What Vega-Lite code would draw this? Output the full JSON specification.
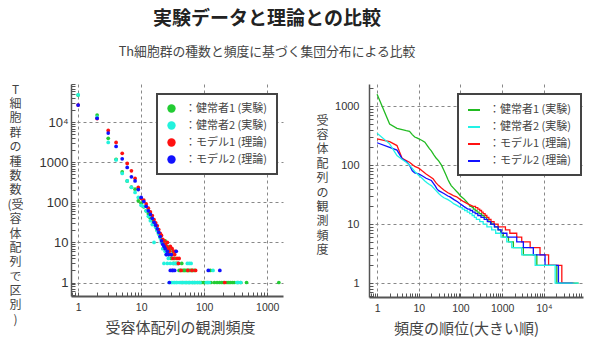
{
  "$schema": "https://vega.github.io/schema/vega-lite/v6.json",
  "background": "white",
  "padding": {"left": 6, "top": 10, "right": 5, "bottom": 5},
  "title": {
    "text": "実験データと理論との比較",
    "subtitle": "Th細胞群の種数と頻度に基づく集団分布による比較",
    "anchor": "middle",
    "dx": -28,
    "font": "Noto Sans CJK JP",
    "fontSize": 19,
    "fontWeight": "bold",
    "color": "#222222",
    "subtitleFont": "Noto Sans CJK JP",
    "subtitleFontSize": 12.8,
    "subtitleColor": "#444444",
    "subtitlePadding": 17,
    "offset": 19
  },
  "datasets": {
    "scatter": [
      {"series": "健常者1 (実験)", "freq": 1, "count": 48000},
      {"series": "健常者1 (実験)", "freq": 2, "count": 15200},
      {"series": "健常者1 (実験)", "freq": 3, "count": 4000},
      {"series": "健常者1 (実験)", "freq": 4, "count": 1200},
      {"series": "健常者1 (実験)", "freq": 5, "count": 580},
      {"series": "健常者1 (実験)", "freq": 6, "count": 345},
      {"series": "健常者1 (実験)", "freq": 7, "count": 240},
      {"series": "健常者1 (実験)", "freq": 8, "count": 215},
      {"series": "健常者1 (実験)", "freq": 9, "count": 110},
      {"series": "健常者1 (実験)", "freq": 10, "count": 96},
      {"series": "健常者1 (実験)", "freq": 11, "count": 78},
      {"series": "健常者1 (実験)", "freq": 12, "count": 62},
      {"series": "健常者1 (実験)", "freq": 13, "count": 52},
      {"series": "健常者1 (実験)", "freq": 14, "count": 40},
      {"series": "健常者1 (実験)", "freq": 15, "count": 35},
      {"series": "健常者1 (実験)", "freq": 16, "count": 30},
      {"series": "健常者1 (実験)", "freq": 17, "count": 25},
      {"series": "健常者1 (実験)", "freq": 18, "count": 20},
      {"series": "健常者1 (実験)", "freq": 19, "count": 17},
      {"series": "健常者1 (実験)", "freq": 20, "count": 14},
      {"series": "健常者1 (実験)", "freq": 21, "count": 12},
      {"series": "健常者1 (実験)", "freq": 22, "count": 10},
      {"series": "健常者1 (実験)", "freq": 23, "count": 9},
      {"series": "健常者1 (実験)", "freq": 24, "count": 11},
      {"series": "健常者1 (実験)", "freq": 25, "count": 7},
      {"series": "健常者1 (実験)", "freq": 26, "count": 8},
      {"series": "健常者1 (実験)", "freq": 27, "count": 6},
      {"series": "健常者1 (実験)", "freq": 28, "count": 5},
      {"series": "健常者1 (実験)", "freq": 29, "count": 7},
      {"series": "健常者1 (実験)", "freq": 30, "count": 4},
      {"series": "健常者1 (実験)", "freq": 31, "count": 5},
      {"series": "健常者1 (実験)", "freq": 32, "count": 6},
      {"series": "健常者1 (実験)", "freq": 33, "count": 3},
      {"series": "健常者1 (実験)", "freq": 34, "count": 4},
      {"series": "健常者1 (実験)", "freq": 36, "count": 3},
      {"series": "健常者1 (実験)", "freq": 38, "count": 3},
      {"series": "健常者1 (実験)", "freq": 40, "count": 2},
      {"series": "健常者1 (実験)", "freq": 42, "count": 2},
      {"series": "健常者1 (実験)", "freq": 44, "count": 3},
      {"series": "健常者1 (実験)", "freq": 45, "count": 1},
      {"series": "健常者1 (実験)", "freq": 46, "count": 2},
      {"series": "健常者1 (実験)", "freq": 48, "count": 2},
      {"series": "健常者1 (実験)", "freq": 50, "count": 2},
      {"series": "健常者1 (実験)", "freq": 52, "count": 1},
      {"series": "健常者1 (実験)", "freq": 53, "count": 2},
      {"series": "健常者1 (実験)", "freq": 56, "count": 2},
      {"series": "健常者1 (実験)", "freq": 58, "count": 1},
      {"series": "健常者1 (実験)", "freq": 59, "count": 2},
      {"series": "健常者1 (実験)", "freq": 62, "count": 2},
      {"series": "健常者1 (実験)", "freq": 65, "count": 1},
      {"series": "健常者1 (実験)", "freq": 66, "count": 2},
      {"series": "健常者1 (実験)", "freq": 70, "count": 2},
      {"series": "健常者1 (実験)", "freq": 71, "count": 1},
      {"series": "健常者1 (実験)", "freq": 78, "count": 1},
      {"series": "健常者1 (実験)", "freq": 85, "count": 1},
      {"series": "健常者1 (実験)", "freq": 90, "count": 1},
      {"series": "健常者1 (実験)", "freq": 97, "count": 1},
      {"series": "健常者1 (実験)", "freq": 102, "count": 1},
      {"series": "健常者1 (実験)", "freq": 112, "count": 1},
      {"series": "健常者1 (実験)", "freq": 125, "count": 2},
      {"series": "健常者1 (実験)", "freq": 128, "count": 1},
      {"series": "健常者1 (実験)", "freq": 145, "count": 1},
      {"series": "健常者1 (実験)", "freq": 160, "count": 1},
      {"series": "健常者1 (実験)", "freq": 175, "count": 1},
      {"series": "健常者1 (実験)", "freq": 190, "count": 1},
      {"series": "健常者1 (実験)", "freq": 205, "count": 1},
      {"series": "健常者1 (実験)", "freq": 230, "count": 1},
      {"series": "健常者1 (実験)", "freq": 245, "count": 1},
      {"series": "健常者1 (実験)", "freq": 260, "count": 1},
      {"series": "健常者1 (実験)", "freq": 280, "count": 1},
      {"series": "健常者1 (実験)", "freq": 300, "count": 1},
      {"series": "健常者1 (実験)", "freq": 340, "count": 1},
      {"series": "健常者1 (実験)", "freq": 380, "count": 1},
      {"series": "健常者1 (実験)", "freq": 470, "count": 1},
      {"series": "健常者1 (実験)", "freq": 1530, "count": 1},
      {"series": "健常者2 (実験)", "freq": 1, "count": 49000},
      {"series": "健常者2 (実験)", "freq": 2, "count": 13500},
      {"series": "健常者2 (実験)", "freq": 3, "count": 3160},
      {"series": "健常者2 (実験)", "freq": 4, "count": 1150},
      {"series": "健常者2 (実験)", "freq": 5, "count": 530},
      {"series": "健常者2 (実験)", "freq": 6, "count": 345},
      {"series": "健常者2 (実験)", "freq": 7, "count": 237},
      {"series": "健常者2 (実験)", "freq": 8, "count": 178},
      {"series": "健常者2 (実験)", "freq": 9, "count": 133},
      {"series": "健常者2 (実験)", "freq": 10, "count": 85},
      {"series": "健常者2 (実験)", "freq": 11, "count": 80},
      {"series": "健常者2 (実験)", "freq": 12, "count": 62},
      {"series": "健常者2 (実験)", "freq": 13, "count": 45},
      {"series": "健常者2 (実験)", "freq": 14, "count": 35},
      {"series": "健常者2 (実験)", "freq": 15, "count": 28},
      {"series": "健常者2 (実験)", "freq": 16, "count": 10},
      {"series": "健常者2 (実験)", "freq": 17, "count": 24},
      {"series": "健常者2 (実験)", "freq": 18, "count": 20},
      {"series": "健常者2 (実験)", "freq": 19, "count": 16},
      {"series": "健常者2 (実験)", "freq": 20, "count": 13},
      {"series": "健常者2 (実験)", "freq": 21, "count": 10},
      {"series": "健常者2 (実験)", "freq": 22, "count": 7},
      {"series": "健常者2 (実験)", "freq": 23, "count": 3},
      {"series": "健常者2 (実験)", "freq": 24, "count": 6},
      {"series": "健常者2 (実験)", "freq": 25, "count": 5},
      {"series": "健常者2 (実験)", "freq": 26, "count": 3},
      {"series": "健常者2 (実験)", "freq": 27, "count": 4},
      {"series": "健常者2 (実験)", "freq": 28, "count": 1},
      {"series": "健常者2 (実験)", "freq": 29, "count": 3},
      {"series": "健常者2 (実験)", "freq": 30, "count": 1},
      {"series": "健常者2 (実験)", "freq": 31, "count": 1},
      {"series": "健常者2 (実験)", "freq": 32, "count": 3},
      {"series": "健常者2 (実験)", "freq": 33, "count": 1},
      {"series": "健常者2 (実験)", "freq": 34, "count": 1},
      {"series": "健常者2 (実験)", "freq": 35, "count": 3},
      {"series": "健常者2 (実験)", "freq": 36, "count": 1},
      {"series": "健常者2 (実験)", "freq": 37, "count": 1},
      {"series": "健常者2 (実験)", "freq": 39, "count": 3},
      {"series": "健常者2 (実験)", "freq": 40, "count": 1},
      {"series": "健常者2 (実験)", "freq": 42, "count": 1},
      {"series": "健常者2 (実験)", "freq": 44, "count": 1},
      {"series": "健常者2 (実験)", "freq": 47, "count": 1},
      {"series": "健常者2 (実験)", "freq": 49, "count": 1},
      {"series": "健常者2 (実験)", "freq": 51, "count": 1},
      {"series": "健常者2 (実験)", "freq": 54, "count": 3},
      {"series": "健常者2 (実験)", "freq": 55, "count": 1},
      {"series": "健常者2 (実験)", "freq": 57, "count": 1},
      {"series": "健常者2 (実験)", "freq": 58, "count": 3},
      {"series": "健常者2 (実験)", "freq": 60, "count": 1},
      {"series": "健常者2 (実験)", "freq": 62, "count": 3},
      {"series": "健常者2 (実験)", "freq": 64, "count": 1},
      {"series": "健常者2 (実験)", "freq": 67, "count": 1},
      {"series": "健常者2 (実験)", "freq": 70, "count": 1},
      {"series": "健常者2 (実験)", "freq": 74, "count": 1},
      {"series": "健常者2 (実験)", "freq": 80, "count": 1},
      {"series": "健常者2 (実験)", "freq": 86, "count": 1},
      {"series": "健常者2 (実験)", "freq": 108, "count": 1},
      {"series": "健常者2 (実験)", "freq": 116, "count": 1},
      {"series": "健常者2 (実験)", "freq": 120, "count": 1},
      {"series": "健常者2 (実験)", "freq": 138, "count": 2},
      {"series": "健常者2 (実験)", "freq": 330, "count": 1},
      {"series": "健常者2 (実験)", "freq": 350, "count": 1},
      {"series": "健常者2 (実験)", "freq": 380, "count": 1},
      {"series": "モデル1 (理論)", "freq": 1, "count": 27000},
      {"series": "モデル1 (理論)", "freq": 2, "count": 12500},
      {"series": "モデル1 (理論)", "freq": 3, "count": 6300},
      {"series": "モデル1 (理論)", "freq": 4, "count": 3160},
      {"series": "モデル1 (理論)", "freq": 5, "count": 1690},
      {"series": "モデル1 (理論)", "freq": 6, "count": 940},
      {"series": "モデル1 (理論)", "freq": 7, "count": 615},
      {"series": "モデル1 (理論)", "freq": 8, "count": 400},
      {"series": "モデル1 (理論)", "freq": 9, "count": 237},
      {"series": "モデル1 (理論)", "freq": 10, "count": 126},
      {"series": "モデル1 (理論)", "freq": 11, "count": 115},
      {"series": "モデル1 (理論)", "freq": 12, "count": 92},
      {"series": "モデル1 (理論)", "freq": 13, "count": 72},
      {"series": "モデル1 (理論)", "freq": 14, "count": 58},
      {"series": "モデル1 (理論)", "freq": 15, "count": 47},
      {"series": "モデル1 (理論)", "freq": 16, "count": 37},
      {"series": "モデル1 (理論)", "freq": 17, "count": 31},
      {"series": "モデル1 (理論)", "freq": 18, "count": 26},
      {"series": "モデル1 (理論)", "freq": 19, "count": 21},
      {"series": "モデル1 (理論)", "freq": 20, "count": 17},
      {"series": "モデル1 (理論)", "freq": 21, "count": 15},
      {"series": "モデル1 (理論)", "freq": 22, "count": 12},
      {"series": "モデル1 (理論)", "freq": 23, "count": 11},
      {"series": "モデル1 (理論)", "freq": 24, "count": 9},
      {"series": "モデル1 (理論)", "freq": 25, "count": 8},
      {"series": "モデル1 (理論)", "freq": 26, "count": 10},
      {"series": "モデル1 (理論)", "freq": 27, "count": 7},
      {"series": "モデル1 (理論)", "freq": 28, "count": 6},
      {"series": "モデル1 (理論)", "freq": 29, "count": 8},
      {"series": "モデル1 (理論)", "freq": 30, "count": 5},
      {"series": "モデル1 (理論)", "freq": 31, "count": 7},
      {"series": "モデル1 (理論)", "freq": 32, "count": 4},
      {"series": "モデル1 (理論)", "freq": 33, "count": 6},
      {"series": "モデル1 (理論)", "freq": 34, "count": 5},
      {"series": "モデル1 (理論)", "freq": 35, "count": 6},
      {"series": "モデル1 (理論)", "freq": 37, "count": 4},
      {"series": "モデル1 (理論)", "freq": 39, "count": 3},
      {"series": "モデル1 (理論)", "freq": 40, "count": 4},
      {"series": "モデル1 (理論)", "freq": 43, "count": 2},
      {"series": "モデル1 (理論)", "freq": 55, "count": 2},
      {"series": "モデル1 (理論)", "freq": 64, "count": 2},
      {"series": "モデル1 (理論)", "freq": 73, "count": 2},
      {"series": "モデル1 (理論)", "freq": 212, "count": 1},
      {"series": "モデル2 (理論)", "freq": 1, "count": 27000},
      {"series": "モデル2 (理論)", "freq": 2, "count": 12600},
      {"series": "モデル2 (理論)", "freq": 3, "count": 5400},
      {"series": "モデル2 (理論)", "freq": 4, "count": 2500},
      {"series": "モデル2 (理論)", "freq": 5, "count": 1230},
      {"series": "モデル2 (理論)", "freq": 6, "count": 750},
      {"series": "モデル2 (理論)", "freq": 7, "count": 437},
      {"series": "モデル2 (理論)", "freq": 8, "count": 345},
      {"series": "モデル2 (理論)", "freq": 9, "count": 210},
      {"series": "モデル2 (理論)", "freq": 10, "count": 133},
      {"series": "モデル2 (理論)", "freq": 11, "count": 105},
      {"series": "モデル2 (理論)", "freq": 12, "count": 80},
      {"series": "モデル2 (理論)", "freq": 13, "count": 62},
      {"series": "モデル2 (理論)", "freq": 14, "count": 50},
      {"series": "モデル2 (理論)", "freq": 15, "count": 40},
      {"series": "モデル2 (理論)", "freq": 16, "count": 32},
      {"series": "モデル2 (理論)", "freq": 17, "count": 27},
      {"series": "モデル2 (理論)", "freq": 18, "count": 22},
      {"series": "モデル2 (理論)", "freq": 19, "count": 18},
      {"series": "モデル2 (理論)", "freq": 20, "count": 14},
      {"series": "モデル2 (理論)", "freq": 21, "count": 11},
      {"series": "モデル2 (理論)", "freq": 22, "count": 9},
      {"series": "モデル2 (理論)", "freq": 23, "count": 8},
      {"series": "モデル2 (理論)", "freq": 24, "count": 7},
      {"series": "モデル2 (理論)", "freq": 25, "count": 5},
      {"series": "モデル2 (理論)", "freq": 26, "count": 6},
      {"series": "モデル2 (理論)", "freq": 27, "count": 5},
      {"series": "モデル2 (理論)", "freq": 28, "count": 1},
      {"series": "モデル2 (理論)", "freq": 29, "count": 2},
      {"series": "モデル2 (理論)", "freq": 30, "count": 5},
      {"series": "モデル2 (理論)", "freq": 31, "count": 2},
      {"series": "モデル2 (理論)", "freq": 32, "count": 2},
      {"series": "モデル2 (理論)", "freq": 34, "count": 2},
      {"series": "モデル2 (理論)", "freq": 36, "count": 6},
      {"series": "モデル2 (理論)", "freq": 116, "count": 2},
      {"series": "モデル2 (理論)", "freq": 177, "count": 2}
    ],
    "rank": [
      {"series": "健常者1 (実験)", "rank": 1, "freq": 1600},
      {"series": "健常者1 (実験)", "rank": 2, "freq": 500},
      {"series": "健常者1 (実験)", "rank": 3, "freq": 420},
      {"series": "健常者1 (実験)", "rank": 4, "freq": 400},
      {"series": "健常者1 (実験)", "rank": 5, "freq": 385},
      {"series": "健常者1 (実験)", "rank": 6, "freq": 375},
      {"series": "健常者1 (実験)", "rank": 7, "freq": 330},
      {"series": "健常者1 (実験)", "rank": 8, "freq": 300},
      {"series": "健常者1 (実験)", "rank": 9, "freq": 290},
      {"series": "健常者1 (実験)", "rank": 10, "freq": 280},
      {"series": "健常者1 (実験)", "rank": 12, "freq": 262},
      {"series": "健常者1 (実験)", "rank": 14, "freq": 245},
      {"series": "健常者1 (実験)", "rank": 16, "freq": 215},
      {"series": "健常者1 (実験)", "rank": 18, "freq": 190},
      {"series": "健常者1 (実験)", "rank": 20, "freq": 175},
      {"series": "健常者1 (実験)", "rank": 23, "freq": 150},
      {"series": "健常者1 (実験)", "rank": 26, "freq": 132},
      {"series": "健常者1 (実験)", "rank": 30, "freq": 118},
      {"series": "健常者1 (実験)", "rank": 35, "freq": 100},
      {"series": "健常者1 (実験)", "rank": 40, "freq": 82},
      {"series": "健常者1 (実験)", "rank": 45, "freq": 68},
      {"series": "健常者1 (実験)", "rank": 50, "freq": 57},
      {"series": "健常者1 (実験)", "rank": 55, "freq": 50},
      {"series": "健常者1 (実験)", "rank": 60, "freq": 45},
      {"series": "健常者1 (実験)", "rank": 70, "freq": 40},
      {"series": "健常者1 (実験)", "rank": 80, "freq": 36},
      {"series": "健常者1 (実験)", "rank": 90, "freq": 33},
      {"series": "健常者1 (実験)", "rank": 100, "freq": 30},
      {"series": "健常者1 (実験)", "rank": 120, "freq": 27},
      {"series": "健常者1 (実験)", "rank": 140, "freq": 24},
      {"series": "健常者1 (実験)", "rank": 155, "freq": 22},
      {"series": "健常者1 (実験)", "rank": 170, "freq": 20},
      {"series": "健常者1 (実験)", "rank": 190, "freq": 20},
      {"series": "健常者1 (実験)", "rank": 191, "freq": 19},
      {"series": "健常者1 (実験)", "rank": 205, "freq": 19},
      {"series": "健常者1 (実験)", "rank": 206, "freq": 18},
      {"series": "健常者1 (実験)", "rank": 225, "freq": 18},
      {"series": "健常者1 (実験)", "rank": 226, "freq": 17},
      {"series": "健常者1 (実験)", "rank": 250, "freq": 17},
      {"series": "健常者1 (実験)", "rank": 251, "freq": 16},
      {"series": "健常者1 (実験)", "rank": 280, "freq": 16},
      {"series": "健常者1 (実験)", "rank": 281, "freq": 15},
      {"series": "健常者1 (実験)", "rank": 320, "freq": 15},
      {"series": "健常者1 (実験)", "rank": 321, "freq": 14},
      {"series": "健常者1 (実験)", "rank": 370, "freq": 14},
      {"series": "健常者1 (実験)", "rank": 371, "freq": 13},
      {"series": "健常者1 (実験)", "rank": 420, "freq": 13},
      {"series": "健常者1 (実験)", "rank": 421, "freq": 12},
      {"series": "健常者1 (実験)", "rank": 480, "freq": 12},
      {"series": "健常者1 (実験)", "rank": 481, "freq": 11},
      {"series": "健常者1 (実験)", "rank": 560, "freq": 11},
      {"series": "健常者1 (実験)", "rank": 561, "freq": 10},
      {"series": "健常者1 (実験)", "rank": 660, "freq": 10},
      {"series": "健常者1 (実験)", "rank": 661, "freq": 9},
      {"series": "健常者1 (実験)", "rank": 800, "freq": 9},
      {"series": "健常者1 (実験)", "rank": 801, "freq": 8},
      {"series": "健常者1 (実験)", "rank": 920, "freq": 8},
      {"series": "健常者1 (実験)", "rank": 921, "freq": 7},
      {"series": "健常者1 (実験)", "rank": 1069, "freq": 7},
      {"series": "健常者1 (実験)", "rank": 1070, "freq": 6},
      {"series": "健常者1 (実験)", "rank": 1419, "freq": 6},
      {"series": "健常者1 (実験)", "rank": 1420, "freq": 5},
      {"series": "健常者1 (実験)", "rank": 1859, "freq": 5},
      {"series": "健常者1 (実験)", "rank": 1860, "freq": 4},
      {"series": "健常者1 (実験)", "rank": 3229, "freq": 4},
      {"series": "健常者1 (実験)", "rank": 3230, "freq": 3},
      {"series": "健常者1 (実験)", "rank": 6799, "freq": 3},
      {"series": "健常者1 (実験)", "rank": 6800, "freq": 2},
      {"series": "健常者1 (実験)", "rank": 20499, "freq": 2},
      {"series": "健常者1 (実験)", "rank": 20500, "freq": 1},
      {"series": "健常者1 (実験)", "rank": 68500, "freq": 1},
      {"series": "モデル1 (理論)", "rank": 1, "freq": 280},
      {"series": "モデル1 (理論)", "rank": 2, "freq": 250},
      {"series": "モデル1 (理論)", "rank": 3, "freq": 215},
      {"series": "モデル1 (理論)", "rank": 4, "freq": 130},
      {"series": "モデル1 (理論)", "rank": 5, "freq": 120},
      {"series": "モデル1 (理論)", "rank": 6, "freq": 112},
      {"series": "モデル1 (理論)", "rank": 8, "freq": 95},
      {"series": "モデル1 (理論)", "rank": 10, "freq": 89},
      {"series": "モデル1 (理論)", "rank": 12, "freq": 80},
      {"series": "モデル1 (理論)", "rank": 15, "freq": 71},
      {"series": "モデル1 (理論)", "rank": 18, "freq": 65},
      {"series": "モデル1 (理論)", "rank": 22, "freq": 59},
      {"series": "モデル1 (理論)", "rank": 26, "freq": 50},
      {"series": "モデル1 (理論)", "rank": 30, "freq": 45},
      {"series": "モデル1 (理論)", "rank": 35, "freq": 41},
      {"series": "モデル1 (理論)", "rank": 40, "freq": 38},
      {"series": "モデル1 (理論)", "rank": 50, "freq": 34},
      {"series": "モデル1 (理論)", "rank": 60, "freq": 32},
      {"series": "モデル1 (理論)", "rank": 70, "freq": 30},
      {"series": "モデル1 (理論)", "rank": 81, "freq": 29},
      {"series": "モデル1 (理論)", "rank": 100, "freq": 26},
      {"series": "モデル1 (理論)", "rank": 120, "freq": 24},
      {"series": "モデル1 (理論)", "rank": 150, "freq": 22},
      {"series": "モデル1 (理論)", "rank": 175, "freq": 21},
      {"series": "モデル1 (理論)", "rank": 200, "freq": 20},
      {"series": "モデル1 (理論)", "rank": 230, "freq": 20},
      {"series": "モデル1 (理論)", "rank": 231, "freq": 19},
      {"series": "モデル1 (理論)", "rank": 260, "freq": 19},
      {"series": "モデル1 (理論)", "rank": 261, "freq": 18},
      {"series": "モデル1 (理論)", "rank": 290, "freq": 18},
      {"series": "モデル1 (理論)", "rank": 291, "freq": 17},
      {"series": "モデル1 (理論)", "rank": 320, "freq": 17},
      {"series": "モデル1 (理論)", "rank": 321, "freq": 16},
      {"series": "モデル1 (理論)", "rank": 350, "freq": 16},
      {"series": "モデル1 (理論)", "rank": 351, "freq": 15},
      {"series": "モデル1 (理論)", "rank": 390, "freq": 15},
      {"series": "モデル1 (理論)", "rank": 391, "freq": 14},
      {"series": "モデル1 (理論)", "rank": 430, "freq": 14},
      {"series": "モデル1 (理論)", "rank": 431, "freq": 13},
      {"series": "モデル1 (理論)", "rank": 480, "freq": 13},
      {"series": "モデル1 (理論)", "rank": 481, "freq": 12},
      {"series": "モデル1 (理論)", "rank": 540, "freq": 12},
      {"series": "モデル1 (理論)", "rank": 541, "freq": 11},
      {"series": "モデル1 (理論)", "rank": 640, "freq": 11},
      {"series": "モデル1 (理論)", "rank": 641, "freq": 10},
      {"series": "モデル1 (理論)", "rank": 800, "freq": 10},
      {"series": "モデル1 (理論)", "rank": 801, "freq": 9},
      {"series": "モデル1 (理論)", "rank": 1199, "freq": 9},
      {"series": "モデル1 (理論)", "rank": 1200, "freq": 8},
      {"series": "モデル1 (理論)", "rank": 1529, "freq": 8},
      {"series": "モデル1 (理論)", "rank": 1530, "freq": 7},
      {"series": "モデル1 (理論)", "rank": 2239, "freq": 7},
      {"series": "モデル1 (理論)", "rank": 2240, "freq": 6},
      {"series": "モデル1 (理論)", "rank": 2949, "freq": 6},
      {"series": "モデル1 (理論)", "rank": 2950, "freq": 5},
      {"series": "モデル1 (理論)", "rank": 4699, "freq": 5},
      {"series": "モデル1 (理論)", "rank": 4700, "freq": 4},
      {"series": "モデル1 (理論)", "rank": 8099, "freq": 4},
      {"series": "モデル1 (理論)", "rank": 8100, "freq": 3},
      {"series": "モデル1 (理論)", "rank": 12999, "freq": 3},
      {"series": "モデル1 (理論)", "rank": 13000, "freq": 2},
      {"series": "モデル1 (理論)", "rank": 26999, "freq": 2},
      {"series": "モデル1 (理論)", "rank": 27000, "freq": 1},
      {"series": "モデル1 (理論)", "rank": 54000, "freq": 1},
      {"series": "モデル2 (理論)", "rank": 1, "freq": 240},
      {"series": "モデル2 (理論)", "rank": 2, "freq": 200},
      {"series": "モデル2 (理論)", "rank": 3, "freq": 180},
      {"series": "モデル2 (理論)", "rank": 4, "freq": 128},
      {"series": "モデル2 (理論)", "rank": 5, "freq": 115},
      {"series": "モデル2 (理論)", "rank": 6, "freq": 100},
      {"series": "モデル2 (理論)", "rank": 7, "freq": 80},
      {"series": "モデル2 (理論)", "rank": 8, "freq": 74},
      {"series": "モデル2 (理論)", "rank": 10, "freq": 71},
      {"series": "モデル2 (理論)", "rank": 12, "freq": 66},
      {"series": "モデル2 (理論)", "rank": 15, "freq": 60},
      {"series": "モデル2 (理論)", "rank": 20, "freq": 55},
      {"series": "モデル2 (理論)", "rank": 22, "freq": 50},
      {"series": "モデル2 (理論)", "rank": 25, "freq": 44},
      {"series": "モデル2 (理論)", "rank": 27, "freq": 40},
      {"series": "モデル2 (理論)", "rank": 30, "freq": 37},
      {"series": "モデル2 (理論)", "rank": 40, "freq": 33},
      {"series": "モデル2 (理論)", "rank": 50, "freq": 30},
      {"series": "モデル2 (理論)", "rank": 56, "freq": 29},
      {"series": "モデル2 (理論)", "rank": 70, "freq": 26},
      {"series": "モデル2 (理論)", "rank": 85, "freq": 24},
      {"series": "モデル2 (理論)", "rank": 100, "freq": 22},
      {"series": "モデル2 (理論)", "rank": 120, "freq": 20},
      {"series": "モデル2 (理論)", "rank": 150, "freq": 18},
      {"series": "モデル2 (理論)", "rank": 170, "freq": 18},
      {"series": "モデル2 (理論)", "rank": 171, "freq": 17},
      {"series": "モデル2 (理論)", "rank": 195, "freq": 17},
      {"series": "モデル2 (理論)", "rank": 196, "freq": 16},
      {"series": "モデル2 (理論)", "rank": 225, "freq": 16},
      {"series": "モデル2 (理論)", "rank": 226, "freq": 15},
      {"series": "モデル2 (理論)", "rank": 260, "freq": 15},
      {"series": "モデル2 (理論)", "rank": 261, "freq": 14},
      {"series": "モデル2 (理論)", "rank": 310, "freq": 14},
      {"series": "モデル2 (理論)", "rank": 311, "freq": 13},
      {"series": "モデル2 (理論)", "rank": 370, "freq": 13},
      {"series": "モデル2 (理論)", "rank": 371, "freq": 12},
      {"series": "モデル2 (理論)", "rank": 440, "freq": 12},
      {"series": "モデル2 (理論)", "rank": 441, "freq": 11},
      {"series": "モデル2 (理論)", "rank": 530, "freq": 11},
      {"series": "モデル2 (理論)", "rank": 531, "freq": 10},
      {"series": "モデル2 (理論)", "rank": 650, "freq": 10},
      {"series": "モデル2 (理論)", "rank": 651, "freq": 9},
      {"series": "モデル2 (理論)", "rank": 800, "freq": 9},
      {"series": "モデル2 (理論)", "rank": 801, "freq": 8},
      {"series": "モデル2 (理論)", "rank": 950, "freq": 8},
      {"series": "モデル2 (理論)", "rank": 951, "freq": 7},
      {"series": "モデル2 (理論)", "rank": 1300, "freq": 7},
      {"series": "モデル2 (理論)", "rank": 1301, "freq": 6},
      {"series": "モデル2 (理論)", "rank": 2239, "freq": 6},
      {"series": "モデル2 (理論)", "rank": 2240, "freq": 5},
      {"series": "モデル2 (理論)", "rank": 3229, "freq": 5},
      {"series": "モデル2 (理論)", "rank": 3230, "freq": 4},
      {"series": "モデル2 (理論)", "rank": 5599, "freq": 4},
      {"series": "モデル2 (理論)", "rank": 5600, "freq": 3},
      {"series": "モデル2 (理論)", "rank": 10699, "freq": 3},
      {"series": "モデル2 (理論)", "rank": 10700, "freq": 2},
      {"series": "モデル2 (理論)", "rank": 22399, "freq": 2},
      {"series": "モデル2 (理論)", "rank": 22400, "freq": 1},
      {"series": "モデル2 (理論)", "rank": 49400, "freq": 1},
      {"series": "健常者2 (実験)", "rank": 1, "freq": 347},
      {"series": "健常者2 (実験)", "rank": 2, "freq": 230},
      {"series": "健常者2 (実験)", "rank": 3, "freq": 145},
      {"series": "健常者2 (実験)", "rank": 4, "freq": 125},
      {"series": "健常者2 (実験)", "rank": 5, "freq": 112},
      {"series": "健常者2 (実験)", "rank": 6, "freq": 100},
      {"series": "健常者2 (実験)", "rank": 7, "freq": 88},
      {"series": "健常者2 (実験)", "rank": 8, "freq": 78},
      {"series": "健常者2 (実験)", "rank": 9, "freq": 72},
      {"series": "健常者2 (実験)", "rank": 10, "freq": 67},
      {"series": "健常者2 (実験)", "rank": 12, "freq": 60},
      {"series": "健常者2 (実験)", "rank": 14, "freq": 54},
      {"series": "健常者2 (実験)", "rank": 16, "freq": 50},
      {"series": "健常者2 (実験)", "rank": 18, "freq": 47},
      {"series": "健常者2 (実験)", "rank": 20, "freq": 45},
      {"series": "健常者2 (実験)", "rank": 25, "freq": 38},
      {"series": "健常者2 (実験)", "rank": 30, "freq": 33},
      {"series": "健常者2 (実験)", "rank": 35, "freq": 30},
      {"series": "健常者2 (実験)", "rank": 40, "freq": 28},
      {"series": "健常者2 (実験)", "rank": 50, "freq": 26},
      {"series": "健常者2 (実験)", "rank": 60, "freq": 24},
      {"series": "健常者2 (実験)", "rank": 70, "freq": 22},
      {"series": "健常者2 (実験)", "rank": 80, "freq": 21},
      {"series": "健常者2 (実験)", "rank": 90, "freq": 20},
      {"series": "健常者2 (実験)", "rank": 100, "freq": 19},
      {"series": "健常者2 (実験)", "rank": 110, "freq": 19},
      {"series": "健常者2 (実験)", "rank": 111, "freq": 18},
      {"series": "健常者2 (実験)", "rank": 125, "freq": 18},
      {"series": "健常者2 (実験)", "rank": 126, "freq": 17},
      {"series": "健常者2 (実験)", "rank": 145, "freq": 17},
      {"series": "健常者2 (実験)", "rank": 146, "freq": 16},
      {"series": "健常者2 (実験)", "rank": 165, "freq": 16},
      {"series": "健常者2 (実験)", "rank": 166, "freq": 15},
      {"series": "健常者2 (実験)", "rank": 190, "freq": 15},
      {"series": "健常者2 (実験)", "rank": 191, "freq": 14},
      {"series": "健常者2 (実験)", "rank": 215, "freq": 14},
      {"series": "健常者2 (実験)", "rank": 216, "freq": 13},
      {"series": "健常者2 (実験)", "rank": 240, "freq": 13},
      {"series": "健常者2 (実験)", "rank": 241, "freq": 12},
      {"series": "健常者2 (実験)", "rank": 290, "freq": 12},
      {"series": "健常者2 (実験)", "rank": 291, "freq": 11},
      {"series": "健常者2 (実験)", "rank": 350, "freq": 11},
      {"series": "健常者2 (実験)", "rank": 351, "freq": 10},
      {"series": "健常者2 (実験)", "rank": 430, "freq": 10},
      {"series": "健常者2 (実験)", "rank": 431, "freq": 9},
      {"series": "健常者2 (実験)", "rank": 560, "freq": 9},
      {"series": "健常者2 (実験)", "rank": 561, "freq": 8},
      {"series": "健常者2 (実験)", "rank": 699, "freq": 8},
      {"series": "健常者2 (実験)", "rank": 700, "freq": 7},
      {"series": "健常者2 (実験)", "rank": 939, "freq": 7},
      {"series": "健常者2 (実験)", "rank": 940, "freq": 6},
      {"series": "健常者2 (実験)", "rank": 1289, "freq": 6},
      {"series": "健常者2 (実験)", "rank": 1290, "freq": 5},
      {"series": "健常者2 (実験)", "rank": 1699, "freq": 5},
      {"series": "健常者2 (実験)", "rank": 1700, "freq": 4},
      {"series": "健常者2 (実験)", "rank": 2949, "freq": 4},
      {"series": "健常者2 (実験)", "rank": 2950, "freq": 3},
      {"series": "健常者2 (実験)", "rank": 6199, "freq": 3},
      {"series": "健常者2 (実験)", "rank": 6200, "freq": 2},
      {"series": "健常者2 (実験)", "rank": 18699, "freq": 2},
      {"series": "健常者2 (実験)", "rank": 18700, "freq": 1},
      {"series": "健常者2 (実験)", "rank": 67700, "freq": 1}
    ]
  },
  "hconcat": [
    {
      "width": 212,
      "height": 212,
      "data": {"name": "scatter"},
      "mark": {"type": "point", "filled": true, "shape": "circle", "size": 14, "opacity": 1, "clip": true},
      "encoding": {
        "x": {
          "field": "freq",
          "type": "quantitative",
          "scale": {"type": "log", "domain": [0.77, 1780], "nice": false},
          "axis": {
            "values": [0.8, 0.9, 1, 2, 3, 4, 5, 6, 7, 8, 9, 10, 20, 30, 40, 50, 60, 70, 80, 90, 100, 200, 300, 400, 500, 600, 700, 800, 900, 1000],
            "labelExpr": "indexof([1,10,100,1000], datum.value) >= 0 ? '' + datum.value : ''",
            "gridOpacity": {"condition": {"test": "indexof([1,10,100,1000], datum.value) >= 0", "value": 1}, "value": 0},
            "labelFontSize": 10.5,
            "labelPadding": 10,
            "domainWidth": 2,
            "title": "受容体配列の観測頻度",
            "titleFontSize": 15,
            "titleX": 109,
            "titleY": 31,
            "titleBaseline": "middle"
          }
        },
        "y": {
          "field": "count",
          "type": "quantitative",
          "scale": {"type": "log", "domain": [0.46, 91000], "nice": false},
          "axis": {
            "values": [0.5, 0.6, 0.7, 0.8, 0.9, 1, 2, 3, 4, 5, 6, 7, 8, 9, 10, 20, 30, 40, 50, 60, 70, 80, 90, 100, 200, 300, 400, 500, 600, 700, 800, 900, 1000, 2000, 3000, 4000, 5000, 6000, 7000, 8000, 9000, 10000, 20000, 30000, 40000, 50000, 60000, 70000, 80000, 90000],
            "labelExpr": "datum.value == 10000 ? '10⁴' : (indexof([1,10,100,1000], datum.value) >= 0 ? '' + datum.value : '')",
            "gridOpacity": {"condition": {"test": "indexof([1,10,100,1000,10000], datum.value) >= 0", "value": 1}, "value": 0},
            "labelFontSize": 13,
            "labelPadding": 7,
            "title": ["T", "細", "胞", "群", "の", "種", "数", "数", "(受", "容", "体", "配", "列", "で", "区", "別", ")"],
            "titleAngle": 0,
            "titleAlign": "center",
            "titleBaseline": "top",
            "titleFontSize": 12,
            "titleLineHeight": 14.4,
            "titleX": -56,
            "titleY": 0
          }
        },
        "color": {
          "field": "series",
          "type": "nominal",
          "scale": {
            "domain": ["健常者1 (実験)", "健常者2 (実験)", "モデル1 (理論)", "モデル2 (理論)"],
            "range": ["#22cc33", "#22f2dd", "#ff1111", "#1111ff"]
          },
          "legend": {
            "orient": "none",
            "legendX": 86,
            "legendY": 10,
            "title": null,
            "symbolType": "circle",
            "symbolSize": 70,
            "labelExpr": "'：' + datum.label"
          }
        }
      }
    },
    {
      "width": 214,
      "height": 213,
      "data": {"name": "rank"},
      "mark": {"type": "line", "strokeWidth": 1.3, "clip": true},
      "encoding": {
        "x": {
          "field": "rank",
          "type": "quantitative",
          "scale": {"type": "log", "domain": [0.64, 87000], "nice": false},
          "axis": {
            "values": [0.7, 0.8, 0.9, 1, 2, 3, 4, 5, 6, 7, 8, 9, 10, 20, 30, 40, 50, 60, 70, 80, 90, 100, 200, 300, 400, 500, 600, 700, 800, 900, 1000, 2000, 3000, 4000, 5000, 6000, 7000, 8000, 9000, 10000, 20000, 30000, 40000, 50000, 60000, 70000, 80000],
            "labelExpr": "datum.value == 10000 ? '10⁴' : (indexof([1,10,100,1000], datum.value) >= 0 ? '' + datum.value : '')",
            "gridOpacity": {"condition": {"test": "indexof([1,10,100,1000,10000], datum.value) >= 0", "value": 1}, "value": 0},
            "labelFontSize": 10.5,
            "labelPadding": 10,
            "domainWidth": 2,
            "title": "頻度の順位(大きい順)",
            "titleFontSize": 15,
            "titleX": 97,
            "titleY": 31,
            "titleBaseline": "middle"
          }
        },
        "y": {
          "field": "freq",
          "type": "quantitative",
          "scale": {"type": "log", "domain": [0.58, 2380], "nice": false},
          "axis": {
            "values": [0.6, 0.7, 0.8, 0.9, 1, 2, 3, 4, 5, 6, 7, 8, 9, 10, 20, 30, 40, 50, 60, 70, 80, 90, 100, 200, 300, 400, 500, 600, 700, 800, 900, 1000, 2000],
            "labelExpr": "indexof([1,10,100,1000], datum.value) >= 0 ? '' + datum.value : ''",
            "gridOpacity": {"condition": {"test": "indexof([1,10,100,1000], datum.value) >= 0", "value": 1}, "value": 0},
            "labelFontSize": 11,
            "labelPadding": 14,
            "title": ["受", "容", "体", "配", "列", "の", "観", "測", "頻", "度"],
            "titleAngle": 0,
            "titleAlign": "center",
            "titleBaseline": "top",
            "titleFontSize": 12,
            "titleLineHeight": 14.4,
            "titleX": -47,
            "titleY": 31
          }
        },
        "color": {
          "field": "series",
          "type": "nominal",
          "scale": {
            "domain": ["健常者1 (実験)", "健常者2 (実験)", "モデル1 (理論)", "モデル2 (理論)"],
            "range": ["#22bb22", "#22f2e6", "#ff1111", "#1111ff"]
          },
          "legend": {
            "orient": "none",
            "legendX": 89,
            "legendY": 10,
            "title": null,
            "symbolType": "stroke",
            "symbolSize": 144,
            "symbolStrokeWidth": 2,
            "labelExpr": "'：' + datum.label"
          }
        }
      }
    }
  ],
  "spacing": 32,
  "resolve": {"scale": {"color": "independent"}, "legend": {"color": "independent"}},
  "config": {
    "font": "Noto Sans CJK JP",
    "view": {"stroke": null},
    "axis": {
      "domainColor": "#555555",
      "domainWidth": 1.5,
      "tickColor": "#555555",
      "tickSize": -4,
      "tickWidth": 1,
      "labelColor": "#333333",
      "labelFont": "Liberation Sans",
      "labelOverlap": false,
      "labelFlush": false,
      "grid": true,
      "gridColor": "#888888",
      "gridDash": [3, 3],
      "gridWidth": 1,
      "titleFont": "Noto Sans CJK JP",
      "titleFontWeight": "normal",
      "titleColor": "#444444"
    },
    "legend": {
      "fillColor": "white",
      "strokeColor": "#444444",
      "strokeWidth": 2,
      "padding": 9,
      "rowPadding": 5,
      "labelFont": "Noto Sans CJK JP",
      "labelFontSize": 11,
      "labelColor": "#444444",
      "labelOffset": 8
    }
  }
}
